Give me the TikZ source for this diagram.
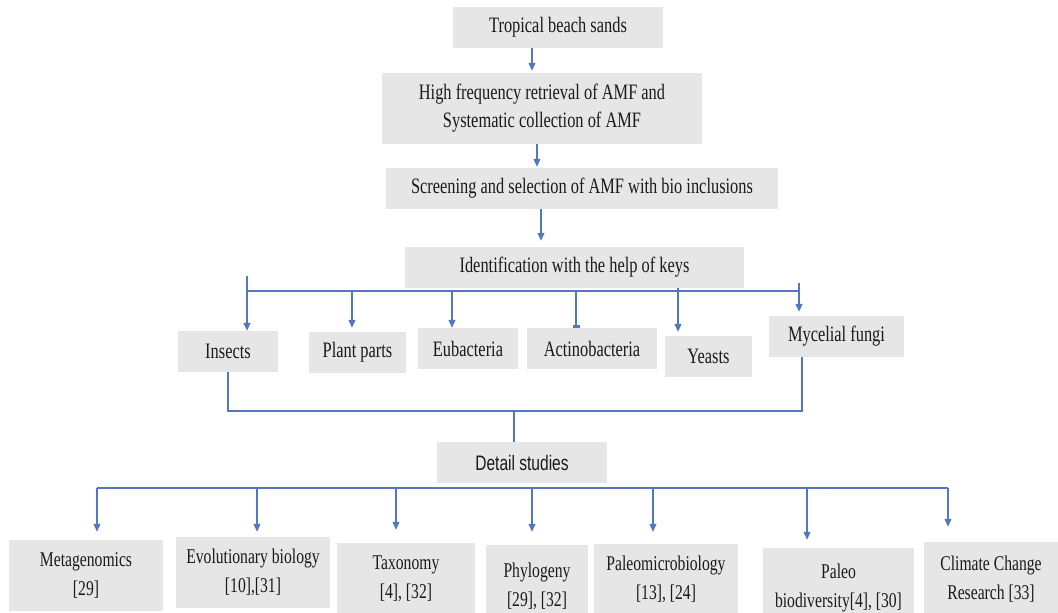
\documentclass[tikz,border=0pt]{standalone}
\usepackage{fontspec}
\setmainfont[FakeStretch=0.745]{Liberation Serif}
\newfontfamily\detailfont[FakeStretch=0.74]{Liberation Sans}
\usetikzlibrary{arrows.meta}
\definecolor{boxgray}{HTML}{E7E6E6}
\definecolor{linkblue}{HTML}{5478BE}
\definecolor{txt}{HTML}{1A1A1A}
\begin{document}
\begin{tikzpicture}[x=1pt,y=-1pt,
  box/.style={fill=boxgray, draw=none, inner sep=0pt, align=center, text=txt,
    font=\fontsize{22}{28}\selectfont},
  lowbox/.style={box, font=\fontsize{21}{29}\selectfont},
  link/.style={draw=linkblue, line width=1.2pt},
  arr/.style={link, -{Triangle[width=7pt,length=8pt]}},
  teearr/.style={link, -{Rectangle[width=7pt,length=3pt]}}]
\useasboundingbox (0,0) rectangle (1058,613);

% top chain
\node[box, minimum width=210pt, minimum height=41pt] (n1) at (558,27.5) {Tropical beach sands};
\node[box, minimum width=320pt, minimum height=71pt] (n2) at (542,108.5) {High frequency retrieval of AMF and\\Systematic collection of AMF};
\node[box, minimum width=392pt, minimum height=41pt] (n3) at (582,188.5) {Screening and selection of AMF with bio inclusions};
\node[box, minimum width=339pt, minimum height=41pt] (n4) at (574.5,267.5) {Identification with the help of keys};

% inclusions row
\node[box, minimum width=100pt, minimum height=41pt] (ins) at (228,351.5) {Insects};
\node[box, minimum width=97pt, minimum height=41pt] (pla) at (357.5,352.5) {Plant parts};
\node[box, minimum width=100pt, minimum height=41pt] (eub) at (468,348.5) {Eubacteria};
\node[box, minimum width=130pt, minimum height=41pt] (act) at (592,348.5) {Actinobacteria};
\node[box, minimum width=87pt, minimum height=41pt] (yea) at (708.5,356.5) {Yeasts};
\node[box, minimum width=135pt, minimum height=41pt] (myc) at (836.5,336.5) {Mycelial fungi};

% detail studies
\node[box, font=\detailfont\fontsize{21}{24}\selectfont, minimum width=170pt, minimum height=41pt] (det) at (522,462.5) {Detail studies};

% bottom row (lower edges run past the picture's edge, as in the reference)
\node[lowbox, minimum width=154pt, minimum height=71pt] (b1) at (86,575.5) {Metagenomics\\{[}29{]}};
\node[lowbox, minimum width=154pt, minimum height=71pt] (b2) at (253,572.5) {Evolutionary biology\\{[}10{]},{[}31{]}};
\node[lowbox, minimum width=138pt, minimum height=72pt] (b3) at (406,579) {Taxonomy\\{[}4{]}, {[}32{]}};
\node[lowbox, minimum width=102pt, minimum height=82pt] (b4) at (537,586) {Phylogeny\\{[}29{]}, {[}32{]}};
\node[lowbox, minimum width=144pt, minimum height=70pt] (b5) at (666,579) {Paleomicrobiology\\{[}13{]}, {[}24{]}};
\node[lowbox, minimum width=151pt, minimum height=80pt] (b6) at (838.5,588) {Paleo\\biodiversity{[}4{]}, {[}30{]}};
\node[lowbox, minimum width=134pt, minimum height=74pt] (b7) at (991,579) {Climate Change\\Research {[}33{]}};

% helper coordinates
\coordinate (c1) at (532,0);
\coordinate (c2) at (537,0);
\coordinate (c3) at (541,0);
\coordinate (barL) at (247,291);
\coordinate (barR) at (799,291);
\coordinate (topL) at (247,276);
\coordinate (topR) at (799,283);
\coordinate (dPla) at (352,291);
\coordinate (dEub) at (452,291);
\coordinate (dAct) at (576,291);
\coordinate (dYea) at (678,0);
\coordinate (mL) at (228,411);
\coordinate (mR) at (802,411);
\coordinate (mC) at (514,411);
\coordinate (lowL) at (97,488);
\coordinate (lowR) at (948,488);
\coordinate (e1) at (97,488);
\coordinate (e2) at (257,488);
\coordinate (e3) at (396,488);
\coordinate (e4) at (532,488);
\coordinate (e5) at (653,488);
\coordinate (e6) at (807,488);
\coordinate (e7) at (948,488);

% top chain arrows
\draw[arr, shorten >=2pt] (n1.south -| c1) -- (n2.north -| c1);
\draw[arr, shorten >=1pt] (n2.south -| c2) -- (n3.north -| c2);
\draw[arr, shorten >=6pt] (n3.south -| c3) -- (n4.north -| c3);

% identification fan-out
\draw[link] (barL) -- (barR);
\draw[arr] (topL) -- (ins.north -| topL);
\draw[arr, shorten >=4pt] (dPla) -- (pla.north -| dPla);
\draw[arr] (dEub) -- (eub.north -| dEub);
\draw[teearr] (dAct) -- (act.north -| dAct);
\draw[arr, shorten >=4pt] (n4.south -| dYea) -- (yea.north -| dYea);
\draw[arr, shorten >=4pt] (topR) -- (myc.north -| topR);

% merge to detail studies
\draw[link] (ins.south -| mL) -- (mL) -- (mR) -- (myc.south -| mR);
\draw[link] (mC) -- (det.north -| mC);

% detail fan-out
\draw[link] (lowL) -- (lowR);
\draw[arr, shorten >=8pt] (e1) -- (b1.north -| e1);
\draw[arr, shorten >=5pt] (e2) -- (b2.north -| e2);
\draw[arr, shorten >=13pt] (e3) -- (b3.north -| e3);
\draw[arr, shorten >=13pt] (e4) -- (b4.north -| e4);
\draw[arr, shorten >=12pt] (e5) -- (b5.north -| e5);
\draw[arr, shorten >=8pt] (e6) -- (b6.north -| e6);
\draw[arr, shorten >=15pt] (e7) -- (b7.north -| e7);
\end{tikzpicture}
\end{document}
